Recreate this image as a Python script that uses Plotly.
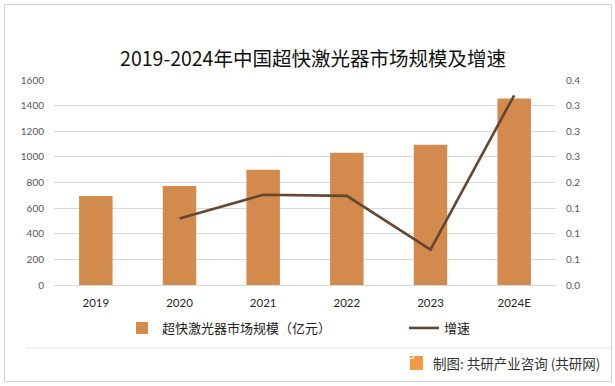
import plotly.graph_objects as go

categories = ["2019", "2020", "2021", "2022", "2023", "2024E"]
market_size = [695, 773, 899, 1032, 1095, 1455]
growth = [None, 0.130, 0.176, 0.174, 0.069, 0.370]

bar_name = "超快激光器市场规模（亿元）"
line_name = "增速"
title_text = "2019-2024年中国超快激光器市场规模及增速"
credit_text = "制图: 共研产业咨询 (共研网)"

W, H = 615, 386
L, R, T, B = 54, 59, 80, 101
pw, ph = W - L - R, H - T - B

def px(x):
    return (x - L) / pw

def py(y):
    return (H - B - y) / ph

fig = go.Figure()
fig.add_trace(go.Bar(
    x=categories, y=market_size, name=bar_name, legend="legend",
    marker=dict(color="#D38B4D", line=dict(width=0)),
))
fig.add_trace(go.Scatter(
    x=categories, y=growth, name=line_name, yaxis="y2", legend="legend2",
    mode="lines", line=dict(color="#654630", width=2.6),
))

legend_font = dict(family="Noto Sans CJK SC", size=13, color="#222222")

fig.update_layout(
    width=W, height=H,
    margin=dict(l=L, r=R, t=T, b=B, autoexpand=False),
    paper_bgcolor="white", plot_bgcolor="white",
    bargap=0.6,
    title=dict(text=title_text, x=0.509, xanchor="center", y=1 - 59 / H, yanchor="middle",
               font=dict(family="Noto Sans CJK SC", size=19.5, color="#111111")),
    xaxis=dict(type="category", showgrid=False, showline=False, zeroline=False, automargin=False,
               tickfont=dict(family="Lato", size=11.5, color="#262626"),
               ticks="", ticklabelstandoff=9),
    yaxis=dict(range=[0, 1600], dtick=200, showgrid=True, gridcolor="#D9D9D9", gridwidth=1,
               zeroline=True, zerolinecolor="#D9D9D9", zerolinewidth=1, showline=False,
               automargin=False,
               tickfont=dict(family="Lato", size=10, color="#595959"), ticklabelstandoff=9),
    yaxis2=dict(range=[0, 0.4], dtick=0.05, tickformat=".1f", overlaying="y", side="right",
                showgrid=False, zeroline=False, showline=False, automargin=False,
                tickfont=dict(family="Lato", size=10, color="#595959"), ticklabelstandoff=9),
    legend=dict(orientation="h", x=px(122), xanchor="left", y=py(328), yanchor="middle",
                font=legend_font, bgcolor="rgba(0,0,0,0)"),
    legend2=dict(orientation="h", x=px(404), xanchor="left", y=py(328), yanchor="middle",
                 font=legend_font, bgcolor="rgba(0,0,0,0)", itemwidth=30),
    showlegend=True,
)

# outer border
fig.add_shape(type="rect", xref="paper", yref="paper",
              x0=px(4.5), x1=px(611.5), y0=py(381.5), y1=py(4.5),
              line=dict(color="#D0D0D0", width=1), fillcolor="rgba(0,0,0,0)", layer="below")
# separator line
fig.add_shape(type="line", xref="paper", yref="paper",
              x0=px(26), x1=px(611), y0=py(348), y1=py(348),
              line=dict(color="#E3E3E3", width=1))
# logo
fig.add_shape(type="rect", xref="paper", yref="paper",
              x0=px(410), x1=px(423), y0=py(370), y1=py(356),
              line=dict(width=0), fillcolor="#F39A4A")
fig.add_annotation(text="G", xref="paper", yref="paper", x=px(416.5), y=py(363),
                   showarrow=False, font=dict(family="DejaVu Sans", size=10, color="white"))
fig.add_annotation(text=credit_text, xref="paper", yref="paper", x=px(602), y=py(363),
                   xanchor="right", yanchor="middle", showarrow=False,
                   font=dict(family="Noto Sans CJK SC", size=13.5, color="#333333"))

fig.write_html("out.html", config={"displayModeBar": False},
               post_script="document.body.style.margin='0';document.body.style.padding='0';")
